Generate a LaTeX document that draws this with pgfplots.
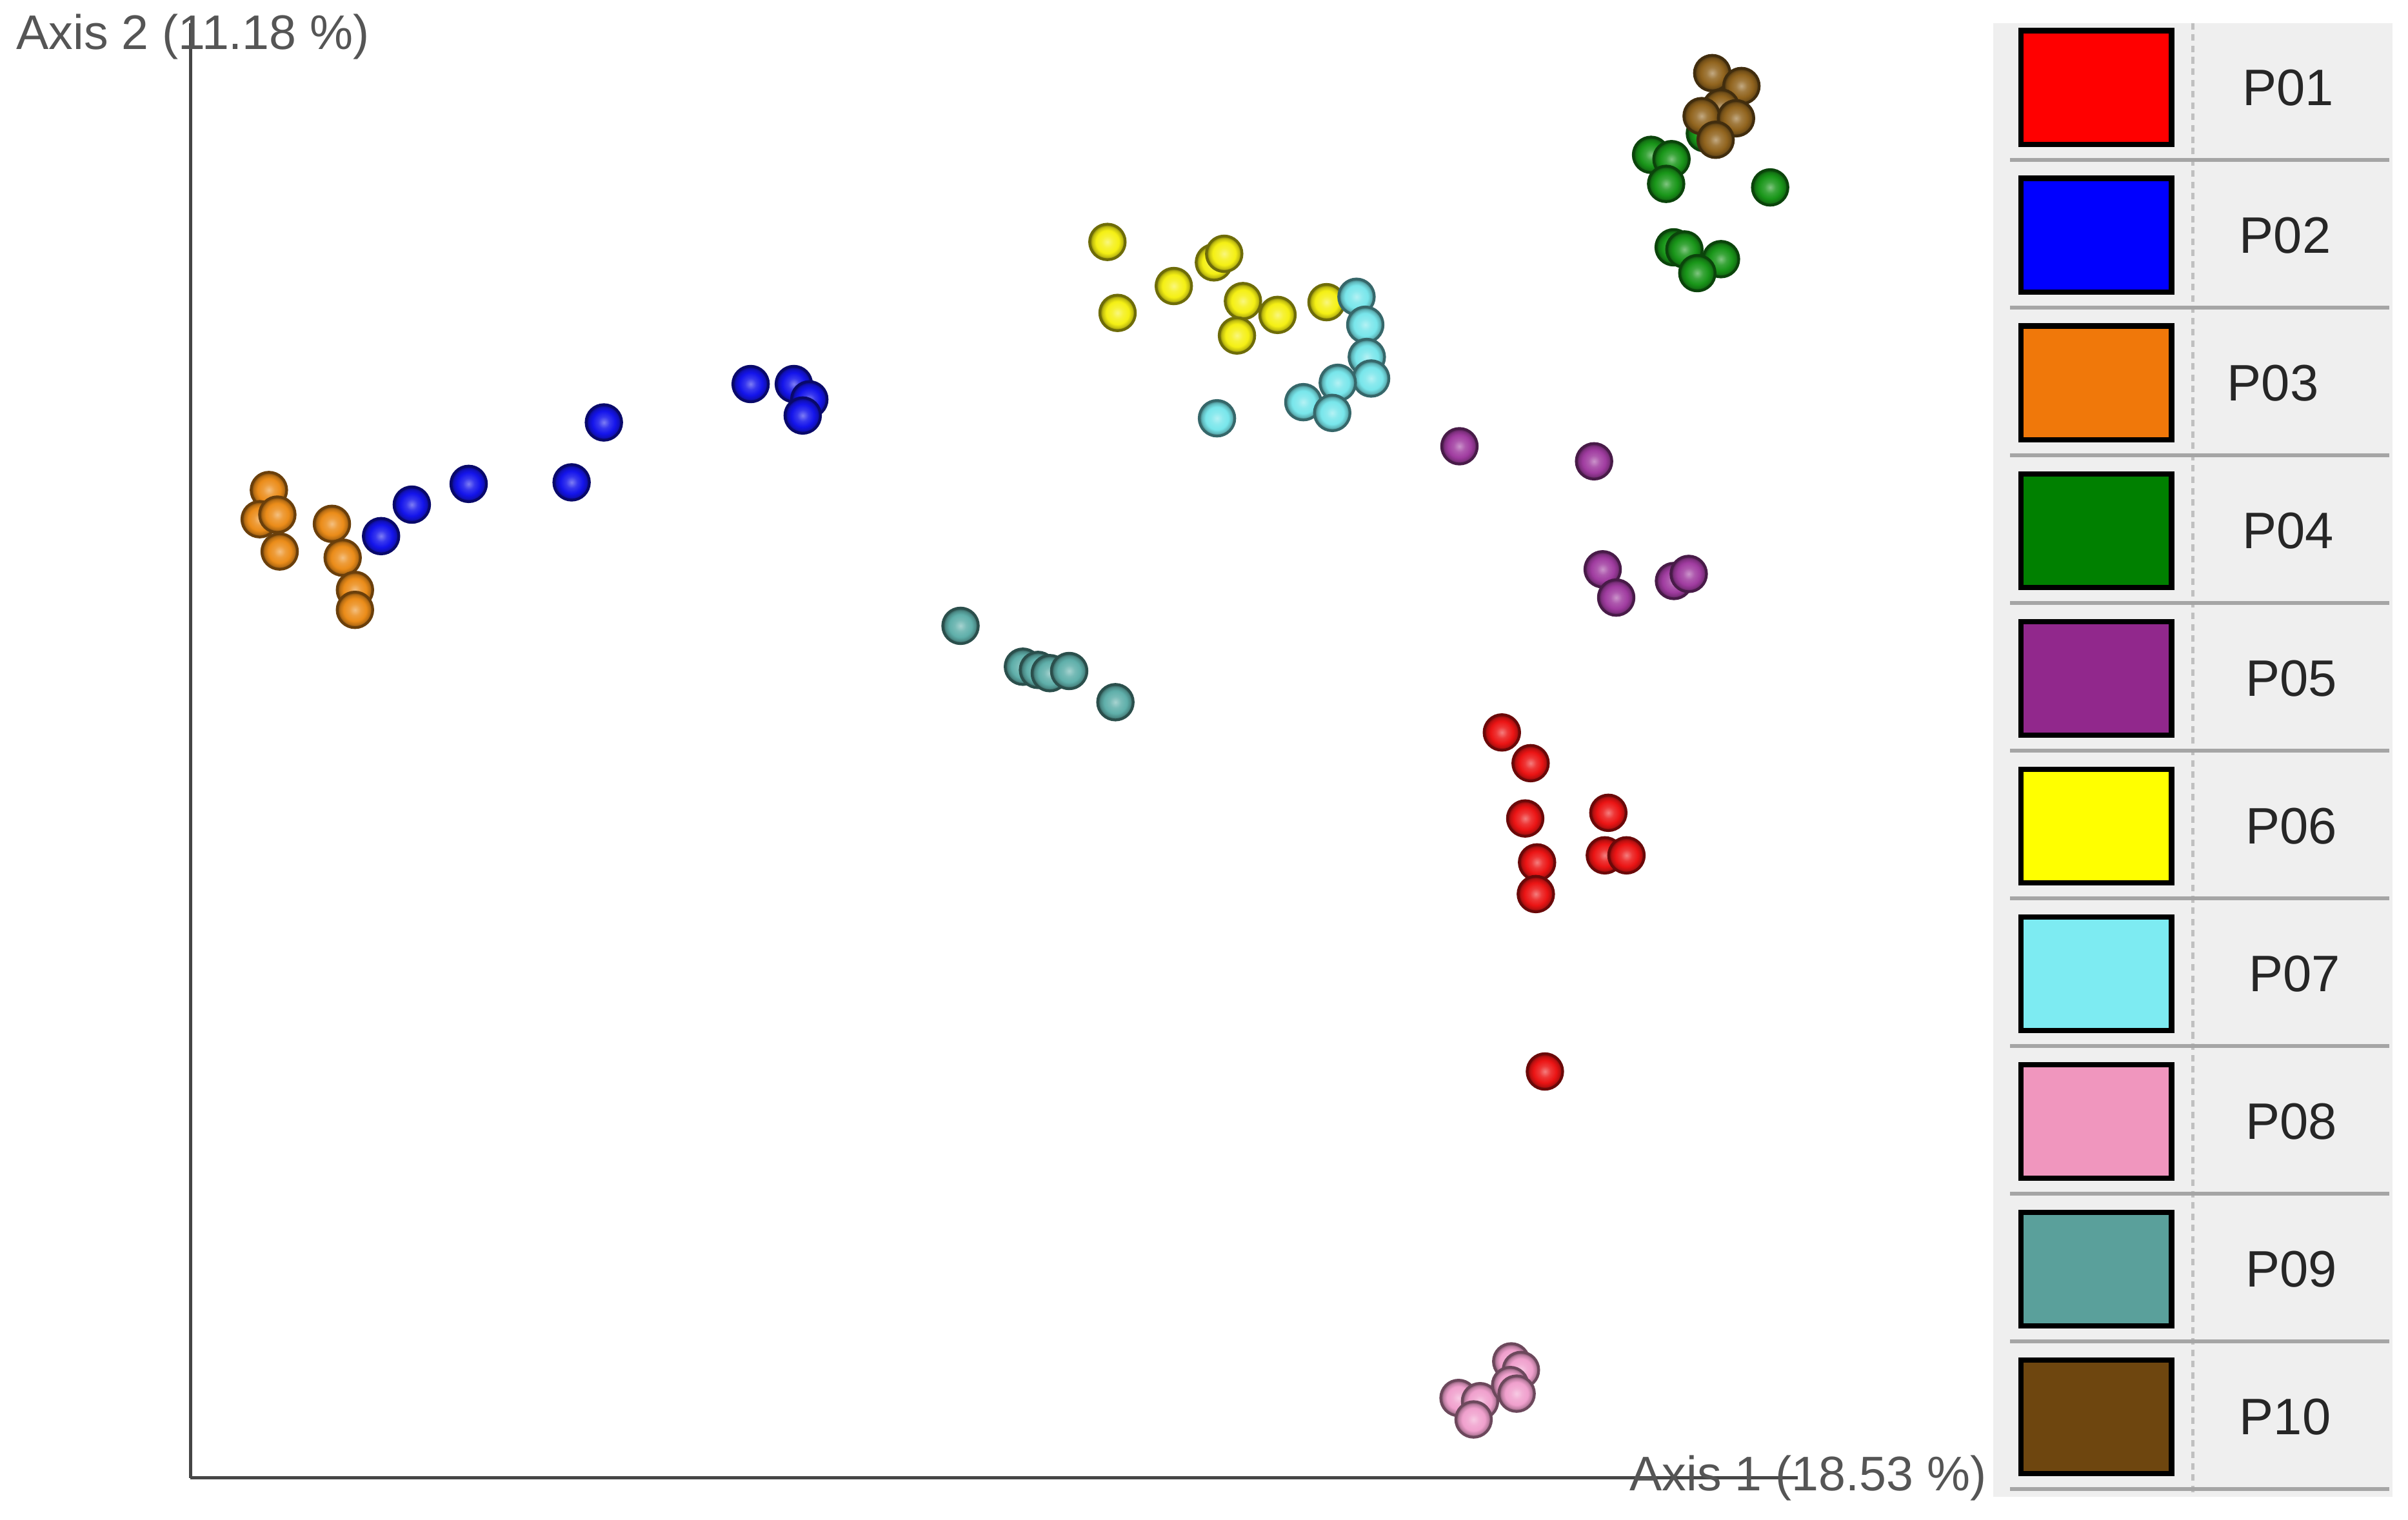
\documentclass[border=0pt]{standalone}
\usepackage{fontspec}
\setmainfont{Liberation Sans}
\usepackage{pgfplots}
\pgfplotsset{compat=1.18}

% dot colours
\definecolor{d01}{RGB}{235,20,20}
\definecolor{d02}{RGB}{20,20,235}
\definecolor{d03}{RGB}{235,140,25}
\definecolor{d04}{RGB}{25,150,25}
\definecolor{d05}{RGB}{160,60,160}
\definecolor{d06}{RGB}{245,240,20}
\definecolor{d07}{RGB}{120,230,235}
\definecolor{d08}{RGB}{240,160,205}
\definecolor{d09}{RGB}{95,175,170}
\definecolor{d10}{RGB}{145,100,30}
% legend colours
\definecolor{l01}{RGB}{255,0,0}
\definecolor{l02}{RGB}{0,0,255}
\definecolor{l03}{RGB}{240,120,10}
\definecolor{l04}{RGB}{0,128,0}
\definecolor{l05}{RGB}{145,40,140}
\definecolor{l06}{RGB}{255,255,0}
\definecolor{l07}{RGB}{125,235,242}
\definecolor{l08}{RGB}{240,150,190}
\definecolor{l09}{RGB}{90,160,155}
\definecolor{l10}{RGB}{110,70,15}
\definecolor{labgray}{RGB}{85,85,85}
\definecolor{axgray}{RGB}{70,70,70}
\definecolor{legbg}{RGB}{239,239,239}
\definecolor{sepgray}{RGB}{165,165,165}

% softer sphere look than the stock ball shading
\makeatletter
\pgfdeclareradialshading[tikz@ball]{ball}{\pgfqpoint{0bp}{0bp}}{%
  color(0bp)=(tikz@ball!55!white);
  color(8bp)=(tikz@ball!85!white);
  color(16bp)=(tikz@ball);
  color(21bp)=(tikz@ball!80!black);
  color(25bp)=(tikz@ball!45!black);
  color(50bp)=(tikz@ball!45!black)}
\makeatother

\pgfplotsset{dots/.style={only marks, mark=ball, mark size=3.3pt,
  mark options={ball color=#1, draw=#1!45!black, line width=0.5pt}}}

\begin{document}
\begin{tikzpicture}
\begin{axis}[
  scale only axis,
  width=10.46cm, height=9.47cm,
  xmin=0, xmax=1046, ymin=0, ymax=947,
  axis lines=left,
  axis line style={-, line width=0.6pt, draw=axgray},
  xtick=\empty, ytick=\empty,
  clip=false,
  xlabel={Axis 1 (18.53 \%)},
  ylabel={Axis 2 (11.18 \%)},
  every axis x label/.style={at={(axis cs:936,0)}, anchor=west, inner sep=0pt,
    font=\fontsize{9}{11}\selectfont, text=labgray},
  every axis y label/.style={at={(axis cs:-114,938)}, anchor=west, inner sep=0pt,
    font=\fontsize{9}{11}\selectfont, text=labgray},
]
% P01
\addplot[dots=d01] table {
x y
853.4 485.2
872.1 465.2
868.6 429.2
922.7 432.9
920.4 405.2
934.5 405.2
876.3 400.6
875.5 380.0
881.4 264.5
};
% P02
\addplot[dots=d02] table {
x y
124.0 613.0
144.0 633.5
181.0 647.0
248.0 648.0
269.0 687.0
364.5 712.0
392.6 712.0
402.7 702.0
398.4 691.5
};
% P03
\addplot[dots=d03] table {
x y
51.0 643.0
45.0 624.0
56.5 627.0
58.0 603.0
92.0 621.0
99.0 599.0
107.0 578.0
107.0 565.0
};
% P04
\addplot[dots=d04] table {
x y
985.5 875.2
950.5 861.2
963.8 858.4
960.3 842.3
1028.0 840.0
965.2 801.0
972.2 799.6
996.0 793.3
980.6 784.2
};
% P05
\addplot[dots=d05] table {
x y
825.8 671.5
913.4 661.7
919.0 591.4
927.8 573.0
965.4 583.8
975.0 588.4
};
% P06
\addplot[dots=d06] table {
x y
596.7 804.5
603.3 758.3
639.9 775.8
666.0 791.2
672.7 796.8
684.9 766.0
707.4 757.0
681.0 743.6
739.3 765.3
};
% P07
\addplot[dots=d07] table {
x y
758.8 768.8
764.5 750.6
765.5 729.6
768.3 715.6
746.6 712.8
724.2 700.2
743.0 693.2
668.0 689.7
};
% P08
\addplot[dots=d08] table {
x y
825.2 52.0
839.2 49.9
835.0 38.0
859.5 75.8
865.8 70.2
858.8 60.4
863.0 54.8
};
% P09
\addplot[dots=d09] table {
x y
501.1 554.6
541.7 528.0
551.5 525.9
559.2 523.8
571.8 525.2
601.9 504.9
};
% P10
\addplot[dots=d10] table {
x y
990.3 914.4
1009.3 906.0
996.0 892.0
983.4 886.4
1005.8 885.0
992.5 871.0
};
\end{axis}

% legend panel, in pixel units of the reference
\begin{scope}[x=0.01cm, y=-0.01cm, shift={(-1.24cm,9.62cm)}]
\path (0,0) rectangle (1568,990);
\fill[legbg] (1298,15) rectangle (1558,975);
\draw[sepgray!70, line width=0.6pt, dash pattern=on 1.2pt off 0.9pt] (1428,15) -- (1428,975);
\foreach \i/\c/\lab/\lx in {0/l01/P01/1490, 1/l02/P02/1488, 2/l03/P03/1480,
    3/l04/P04/1490, 4/l05/P05/1492, 5/l06/P06/1492, 6/l07/P07/1494,
    7/l08/P08/1492, 8/l09/P09/1492, 9/l10/P10/1488} {
  \pgfmathsetmacro\tp{20+96.2*\i}
  \draw[fill=\c, draw=black, line width=1pt] (1316,\tp) rectangle (1414,\tp+74);
  \node[font=\fontsize{9.5}{11}\selectfont, text=black!85] at (\lx,\tp+37) {\lab};
  \draw[sepgray, line width=0.7pt] (1309,\tp+84) -- (1556,\tp+84);
}
\end{scope}
\end{tikzpicture}
\end{document}
